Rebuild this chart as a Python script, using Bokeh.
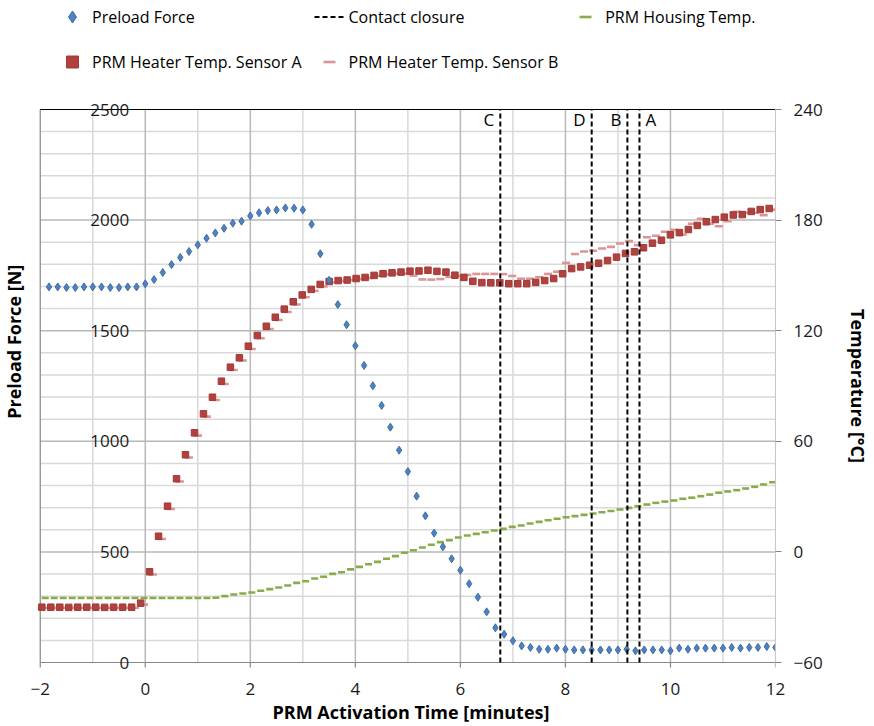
import numpy as np
from bokeh.plotting import figure
from bokeh.layouts import column
from bokeh.models import (Range1d, LinearAxis, FixedTicker, Legend, LegendItem,
                          ColumnDataSource, Label, Title)
from bokeh.transform import dodge
from bokeh.core.properties import value
from bokeh.embed import file_html
from bokeh.resources import INLINE

# ---------------- data ----------------
# preload force, sampled every 10 s (1/6 min)
t_force = np.arange(-11, 73) / 6.0
force = [1698, 1698, 1695, 1695, 1698, 1698, 1698, 1695, 1695, 1698, 1698,
         1712,
         1731, 1763, 1799, 1831, 1858, 1888, 1918, 1942, 1963, 1986, 1995, 2019,
         2033, 2043, 2046, 2055, 2054,
         2046, 1981, 1848, 1728, 1618, 1527, 1432, 1343, 1251, 1162, 1064, 960,
         863, 752, 663, 585, 523, 469, 417,
         356, 295, 229, 157, 128,
         98, 75, 68, 60, 60, 65, 60, 57, 57, 57, 57, 57, 57, 60, 53, 57, 57, 57,
         53, 65, 60, 65, 65, 65, 65, 68, 65, 68, 68, 72, 68]

# temperature logger time base (minutes)
t_temp = np.linspace(-1.97, 11.88, 82)
heater_a = [-30.0, -30.0, -30.0, -30.1, -30.0, -30.0, -30.0, -30.1, -30.0, -30.0, -30.0,
            -27.8,
            -10.8, 8.5, 24.8, 39.7, 52.7, 64.6, 74.9, 83.9, 92.6, 100.2, 105.3, 111.6,
            117.4, 122.4, 127.3, 131.7, 135.7,
            139.4,
            142.4, 145.1, 146.7, 147.2, 147.5, 148.3, 148.9, 150.0, 150.9, 151.4,
            151.8, 152.3, 152.4, 152.8, 152.2, 151.8, 150.1, 148.9, 146.8, 146.1,
            146.0, 146.0, 145.5, 145.5, 145.5, 146.2, 147.2, 148.3, 150.9, 153.7,
            154.6, 155.5,
            156.6, 158.1, 159.9, 161.9, 162.8, 165.0, 167.5, 169.1, 172.0, 173.2,
            174.9, 177.1, 179.1, 180.3, 181.6, 182.8, 183.0, 184.7, 185.7, 186.3]
heater_b = [-30.3, -30.3, -30.3, -30.3, -30.3, -30.3, -30.3, -30.3, -30.3, -30.3, -30.3,
            -28.6,
            -12.3, 7.0, 23.3, 38.2, 51.2, 63.1, 73.4, 82.4, 91.1, 98.7, 103.8, 110.1,
            115.9, 120.9, 125.8, 130.2, 134.2,
            138.2,
            141.6, 144.0, 146.2, 147.0, 147.5, 148.0, 148.6, 149.8, 150.6, 151.0,
            151.0, 149.9, 147.8, 147.7, 148.0, 149.2, 149.8, 150.2, 150.8, 150.8,
            150.8, 150.7, 149.7, 148.2, 148.2, 149.0, 150.8, 152.0, 156.8, 161.6,
            163.0, 163.4,
            164.6, 165.5, 167.3, 168.6, 166.4, 170.7, 171.5, 173.7, 174.7, 172.2,
            178.0, 180.7, 178.0, 176.7, 179.4, 184.5, 184.0, 184.0, 182.7, 185.7]
housing = [-25.0, -25.0, -25.0, -25.0, -25.0, -25.0, -25.0, -25.0, -25.0, -25.0,
           -25.0, -25.0, -25.0, -25.0, -25.0, -25.0, -25.0, -25.0, -25.0,
           -24.9, -24.0, -23.1, -22.6, -22.0, -21.1, -20.2, -19.3, -18.2, -16.8,
           -15.9, -14.4, -13.5, -11.9, -11.0, -9.5, -8.1, -6.7, -5.4, -3.7, -2.3,
           -0.5, 0.9,
           2.4, 3.9, 5.3, 6.4, 7.8, 8.9, 9.8, 10.7, 11.6, 12.5, 13.6, 14.3, 15.4,
           16.3, 17.2, 18.0, 18.8, 19.4, 20.1, 20.8,
           21.5, 22.2, 23.0, 23.9, 24.8, 25.7, 26.6, 27.3, 27.9, 28.8, 29.4, 30.2,
           31.1, 32.1, 32.8, 33.5, 34.4, 35.3, 36.6, 37.8]

closure_t = [6.76, 8.50, 9.18, 9.41]
closure_labels = ["C", "D", "B", "A"]

x_ticks = [-2, 0, 2, 4, 6, 8, 10, 12]
x_minor = [-1, 1, 3, 5, 7, 9, 11]
force_ticks = [0, 500, 1000, 1500, 2000, 2500]
force_minor = [100, 200, 300, 400, 600, 700, 800, 900, 1100, 1200, 1300, 1400,
               1600, 1700, 1800, 1900, 2100, 2200, 2300, 2400]
temp_ticks = [-60, 0, 60, 120, 180, 240]

FONT = "Open Sans"
C_FORCE, C_FORCE_EDGE = "#4f81bd", "#3f6ea8"
C_A, C_A_EDGE = "#b0413e", "#a33a37"
C_B = "#d99694"
C_HOUSE = "#8aab4a"
C_MAJOR, C_MINOR, C_AXIS = "#b8b8b8", "#d9d9d9", "#868686"
TICK_FS, TITLE_FS = "17px", "18px"

# ---------------- geometry of the plotting area ----------------
PLOT_W, PLOT_H = 740, 553          # px spanned by the axes' data extents
PAD_L, PAD_V = 40, 14              # extra room so edge texts are not clipped
x0, x1 = x_ticks[0], x_ticks[-1]
f0, f1 = force_ticks[0], force_ticks[-1]
t0, t1 = temp_ticks[0], temp_ticks[-1]
x_per_px = (x1 - x0) / PLOT_W
f_per_px = (f1 - f0) / PLOT_H
t_per_px = (t1 - t0) / PLOT_H

p = figure(width=872, height=638,
           x_range=Range1d(x0 - PAD_L * x_per_px, x1),
           y_range=Range1d(f0 - PAD_V * f_per_px, f1 + PAD_V * f_per_px),
           output_backend="svg", toolbar_location=None, y_axis_location=None,
           min_border_left=0, min_border_right=92, min_border_top=10,
           min_border_bottom=47)
p.extra_y_ranges = {"temp": Range1d(t0 - PAD_V * t_per_px, t1 + PAD_V * t_per_px)}
p.outline_line_color = None
p.xgrid.visible = False
for g in p.ygrid:
    g.visible = False

# grid lines limited to the data area
p.segment(x0=x0, y0=force_minor, x1=x1, y1=force_minor, line_color=C_MINOR, line_width=1.5)
p.segment(x0=x_minor, y0=f0, x1=x_minor, y1=f1, line_color=C_MINOR, line_width=1.5)
p.segment(x0=x0, y0=force_ticks[1:-1], x1=x1, y1=force_ticks[1:-1], line_color=C_MAJOR,
          line_width=1.5)
p.segment(x0=x_ticks[1:-1], y0=f0, x1=x_ticks[1:-1], y1=f1, line_color=C_MAJOR,
          line_width=1.5)
# borders and x tick marks
p.segment(x0=x1, y0=f0, x1=x1, y1=f1, line_color="#c8c8c8", line_width=1.2)
p.segment(x0=x0, y0=f0, x1=x1, y1=f0, line_color=C_AXIS, line_width=1.2)
p.segment(x0=x0, y0=f0, x1=x0, y1=f1, line_color=C_AXIS, line_width=1.2)
p.segment(x0=x0, y0=f1, x1=x1, y1=f1, line_color="black", line_width=1.2)
p.segment(x0=x_ticks, y0=f0, x1=x_ticks, y1=f0 - 5 * f_per_px, line_color=C_AXIS,
          line_width=1.2)

# x axis: labels only (line and ticks drawn above at the data edge)
xa = p.xaxis[0]
xa.ticker = FixedTicker(ticks=x_ticks)
xa.axis_line_color = None
xa.major_tick_line_color = None
xa.minor_tick_line_color = None
xa.major_label_standoff = 0
p.add_layout(Title(text="PRM Activation Time [minutes]", align="left", offset=272,
                   text_font=FONT, text_font_size=TITLE_FS, text_font_style="bold",
                   text_color="black", standoff=0), "below")

# right axis
ra = LinearAxis(y_range_name="temp", ticker=FixedTicker(ticks=temp_ticks),
                axis_label="Temperature [°C]", bounds=(t0, t1))
ra.axis_line_color = "#c8c8c8"
ra.major_tick_line_color = C_AXIS
ra.major_tick_out = 6
ra.major_tick_in = 0
ra.minor_tick_line_color = None
ra.major_label_standoff = 12
ra.axis_label_standoff = 20
if "axis_label_orientation" in LinearAxis.properties():
    ra.axis_label_orientation = "vertical"
p.add_layout(ra, "right")

for ax in (xa, ra):
    ax.major_label_text_font = FONT
    ax.major_label_text_font_size = TICK_FS
    ax.major_label_text_color = "#1a1a1a"
    ax.axis_label_text_font = FONT
    ax.axis_label_text_font_size = TITLE_FS
    ax.axis_label_text_font_style = "bold"
    ax.axis_label_text_color = "black"

# left tick labels sit inside the plot, as in the original
for v in force_ticks:
    p.add_layout(Label(x=x0, y=v, text=str(v), x_offset=89,
                       text_align="right", text_baseline="middle", text_font=FONT,
                       text_font_size=TICK_FS, text_color="#1a1a1a"))
# left axis title (reads bottom-to-top)
p.add_layout(Label(x=x0, y=1450, text="Preload Force [N]", x_offset=-26,
                   angle=90, angle_units="deg", text_align="center",
                   text_baseline="middle", text_font=FONT, text_font_size=TITLE_FS,
                   text_font_style="bold", text_color="black"))

# ---------------- series ----------------
src_f = ColumnDataSource(dict(t=t_force, v=force))
src_t = ColumnDataSource(dict(t=t_temp, a=heater_a, b=heater_b, h=housing))

p.scatter(x=dodge("t", 0.065, range=p.x_range), y="h", source=src_t,
          marker="dash", size=7, line_width=2.6, line_color=C_HOUSE, y_range_name="temp")
p.scatter(x=dodge("t", 0.065, range=p.x_range), y="b", source=src_t,
          marker="dash", size=8, line_width=2.6, line_color=C_B, y_range_name="temp")
p.scatter(x="t", y="a", source=src_t, marker="square", size=6.5,
          fill_color=C_A, line_color=C_A_EDGE, y_range_name="temp")
p.scatter(x="t", y="v", source=src_f, marker="diamond", size=8,
          fill_color=C_FORCE, line_color=C_FORCE_EDGE, line_width=1)

csrc = ColumnDataSource(dict(x=closure_t, y0=[f0] * 4, y1=[f1] * 4))
p.segment(x0="x", y0="y0", x1="x", y1="y1", source=csrc,
          line_color="black", line_width=2, line_dash="5 3")

left_src = ColumnDataSource(dict(x=closure_t[:3], y=[f1] * 3, label=closure_labels[:3]))
right_src = ColumnDataSource(dict(x=closure_t[3:], y=[f1] * 1, label=closure_labels[3:]))
p.text(x="x", y="y", text="label", source=left_src, x_offset=-6, y_offset=-2,
       text_align="right", text_baseline="top", text_font=value(FONT),
       text_font_size="17px", text_color="black")
p.text(x="x", y="y", text="label", source=right_src, x_offset=6, y_offset=-2,
       text_align="left", text_baseline="top", text_font=value(FONT),
       text_font_size="17px", text_color="black")

# ---------------- legend strip ----------------
lf = figure(width=872, height=85, x_range=Range1d(0, 1), y_range=Range1d(0, 1),
            output_backend="svg", toolbar_location=None, min_border=0,
            x_axis_location=None, y_axis_location=None)
lf.outline_line_color = None
lf.xgrid.visible = False
lf.ygrid.visible = False
# legend swatches: one point each, outside the strip's visible range
off = dict(x=[5], y=[5])
g_force = lf.scatter(marker="diamond", size=8, fill_color=C_FORCE,
                     line_color=C_FORCE_EDGE, **off)
g_close = lf.line(line_color="black", line_width=2, line_dash="5 3",
                  x=[5, 6], y=[5, 6])
g_house = lf.scatter(marker="dash", size=7, line_width=2.6, line_color=C_HOUSE, **off)
g_a = lf.scatter(marker="square", size=6.5, fill_color=C_A, line_color=C_A_EDGE, **off)
g_b = lf.scatter(marker="dash", size=8, line_width=2.6, line_color=C_B, **off)

legend = Legend(items=[
    LegendItem(label="Preload Force", renderers=[g_force]),
    LegendItem(label="Contact closure", renderers=[g_close]),
    LegendItem(label="PRM Housing Temp.", renderers=[g_house]),
    LegendItem(label="PRM Heater Temp. Sensor A", renderers=[g_a]),
    LegendItem(label="PRM Heater Temp. Sensor B", renderers=[g_b]),
], orientation="horizontal", ncols=3, location=(57, 7))
legend.label_text_font = FONT
legend.label_text_font_size = "16px"
legend.label_text_color = "black"
legend.border_line_color = None
legend.background_fill_alpha = 0
legend.glyph_width = 30
legend.glyph_height = 33
legend.label_height = 33
legend.label_width = 100
legend.label_standoff = 5
legend.spacing = 12
legend.padding = 0
legend.margin = 0
lf.add_layout(legend)

layout = column(lf, p, spacing=0)
open("out.html", "w").write(file_html(layout, INLINE))
